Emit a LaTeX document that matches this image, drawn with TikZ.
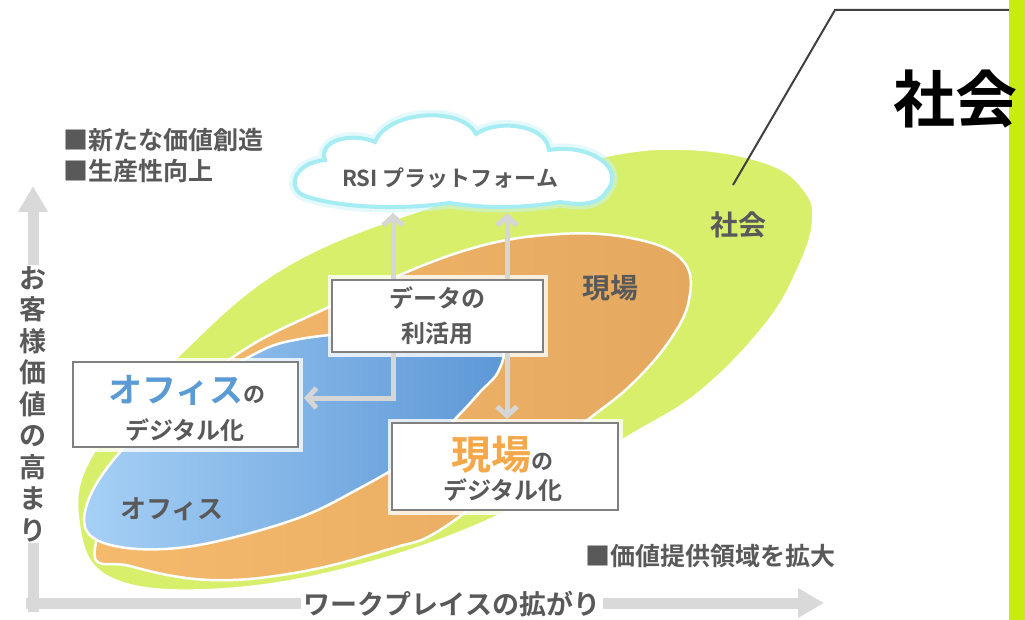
\documentclass[tikz,border=0pt]{standalone}
\usepackage{fontspec}
\setmainfont{Noto Sans CJK JP}[BoldFont={Noto Sans CJK JP Bold}]
\usetikzlibrary{arrows.meta}
\definecolor{txt}{HTML}{595959}
\definecolor{axisgray}{HTML}{D9D9D9}
\definecolor{arrgray}{HTML}{D6D6D6}
\definecolor{soc}{HTML}{D8EF6C}
\definecolor{socbar}{HTML}{C8EC10}
\definecolor{orgL}{HTML}{F5BA6C}
\definecolor{orgR}{HTML}{E4A95F}
\definecolor{bluL}{HTML}{A6D0F6}
\definecolor{bluR}{HTML}{5C97D6}
\definecolor{blutxt}{HTML}{5B9BD5}
\definecolor{orgtxt}{HTML}{F5A84A}
\definecolor{cloudc}{HTML}{A6ECF3}
\definecolor{boxline}{HTML}{808080}
\newcommand{\fsz}[1]{\fontsize{#1}{#1}\selectfont}
\begin{document}
\begin{tikzpicture}[x=1pt,y=-1pt,
  lbl/.style={text=txt, font=\bfseries\fsz{25}, inner sep=0pt},
  box/.style={draw=boxline, line width=1.5pt, fill=white, align=center, text=txt,
     font=\bfseries, preaction={draw=white, line width=9pt, opacity=0.8}},
  flow/.style={draw=arrgray, line width=5pt, -{Straight Barb[length=9pt,width=20pt]}},
  axis/.style={draw=axisgray, line width=11pt, -{Triangle[length=26pt,width=28pt]}},
  region/.style={draw=white, line width=2.5pt}
]
\useasboundingbox (0,0) rectangle (1025,620);
\fill[white] (0,0) rectangle (1025,620);

% right bar
\fill[socbar] (1009,0) rectangle (1025,620);

% axes
\coordinate (ytop) at (33,186);
\coordinate (xend) at (824,603);
\draw[axis] (33,612) -- (ytop);
\draw[axis] (26,603) -- (xend);
\node[fill=white, text=txt, font=\bfseries\fontsize{27}{31.5}\selectfont, align=center, inner sep=1pt]
  (ylabel) at (33,404) {お\\客\\様\\価\\値\\の\\高\\ま\\り};
\node[fill=white, text=txt, font=\bfseries\fsz{27}, inner xsep=3pt, inner ysep=0pt]
  (xlabel) at (452,604) {ワークプレイスの拡がり};

% society (green)
\path[region, fill=soc] plot[smooth cycle, tension=0.65] coordinates {
  (79,525) (92,455) (177,357) (293,262) (460,197) (600,157) (690,149) (770,164)
  (806,192) (813,222) (800,265) (767,323) (700,392) (623,440) (500,515)
  (350,568) (210,590) (110,578)};
% genba (orange)
\path[region, left color=orgL, right color=orgR] plot[smooth cycle, tension=0.65] coordinates {
  (95,548) (150,430) (233,357) (327,308) (460,252) (560,234) (640,240) (684,262)
  (689,300) (670,340) (633,383) (590,418) (520,470) (440,530) (393,548) (300,572)
  (210,580) (130,566)};
% office (blue)
\path[region, left color=bluL, right color=bluR] plot[smooth cycle, tension=0.6] coordinates {
  (85,527) (100,478) (160,413) (247,358) (300,339) (400,330) (470,332) (502,347)
  (498,372) (480,392) (457,417) (420,452) (360,488) (293,520) (193,546) (120,547)};

% region labels
\node[lbl, font=\bfseries\fsz{28}] (lsoc) at (738,225) {社会};
\node[lbl, font=\bfseries\fsz{28}] (lgen) at (610,288) {現場};
\node[lbl, font=\bfseries\fsz{26}] (loff) at (172,509) {オフィス};

% cloud
\path[draw=cloudc!60, line width=11pt, opacity=0.5]
  (305,196) .. controls (287,190) and (292,163) .. (325,160)
  .. controls (318,140) and (352,132) .. (375,142)
  .. controls (388,110) and (462,106) .. (476,134)
  .. controls (497,119) and (546,124) .. (549,150)
  .. controls (592,143) and (627,170) .. (606,192)
  .. controls (598,206) and (578,205) .. (560,202)
  .. controls (520,209) and (480,208) .. (450,203)
  .. controls (400,210) and (340,208) .. (305,196) -- cycle;
\path[draw=cloudc, line width=4pt, fill=white]
  (305,196) .. controls (287,190) and (292,163) .. (325,160)
  .. controls (318,140) and (352,132) .. (375,142)
  .. controls (388,110) and (462,106) .. (476,134)
  .. controls (497,119) and (546,124) .. (549,150)
  .. controls (592,143) and (627,170) .. (606,192)
  .. controls (598,206) and (578,205) .. (560,202)
  .. controls (520,209) and (480,208) .. (450,203)
  .. controls (400,210) and (340,208) .. (305,196) -- cycle;
\node[lbl, font=\bfseries\fsz{22}] (cloud) at (450,178) {RSI プラットフォーム};

% boxes
\node[box, minimum width=211pt, minimum height=72pt, inner sep=0pt] (data) at (437.5,316) {};
\node[text=txt, font=\bfseries\fsz{24}, align=center, inner sep=0pt] (d1) at (437.5,298) {データの};
\node[text=txt, font=\bfseries\fsz{24}, align=center, inner sep=0pt] (d2) at (437.5,333) {利活用};

\node[box, minimum width=225pt, minimum height=85pt, inner sep=0pt] (office) at (185.5,404.5) {};
\node[inner sep=0pt, font=\bfseries, anchor=base] (o1) at (187,402)
  {\textcolor{blutxt}{\fsz{34}オフィス}\textcolor{txt}{\fsz{22}の}};
\node[inner sep=0pt, text=txt, font=\bfseries\fsz{24}] (o2) at (185,430) {デジタル化};

\node[box, minimum width=226pt, minimum height=87pt, inner sep=0pt] (genba) at (505,466.5) {};
\node[inner sep=0pt, font=\bfseries, anchor=base] (g1) at (502,469)
  {\textcolor{orgtxt}{\fsz{40}現場}\textcolor{txt}{\fsz{22}の}};
\node[inner sep=0pt, text=txt, font=\bfseries\fsz{24}] (g2) at (503,490) {デジタル化};

% flow arrows
\coordinate (upA) at (393,213);
\coordinate (upB) at (507,213);
\coordinate (downB) at (507,419);
\coordinate (leftA) at (304,398);
\draw[flow] (data.north -| upA) -- (upA);
\draw[flow] (data.north -| upB) -- (upB);
\draw[flow] (data.south -| downB) -- (downB);
\draw[flow] (data.south -| upA) |- (leftA);

% bullet texts
\node[lbl, anchor=west] (b1) at (63,140) {■新たな価値創造};
\node[lbl, anchor=west] (b2) at (63,171) {■生産性向上};
\node[lbl, anchor=west] (b3) at (585,556) {■価値提供領域を拡大};

% callout
\coordinate (cstart) at (733,185);
\coordinate (cbend) at (835,10);
\coordinate (cend) at (1009,10);
\draw[line width=2pt, draw=black!75] (cstart) -- (cbend) -- (cend);
\node[inner sep=0pt, font=\bfseries\fsz{62}] (big) at (955,99) {社会};
\end{tikzpicture}
\end{document}
